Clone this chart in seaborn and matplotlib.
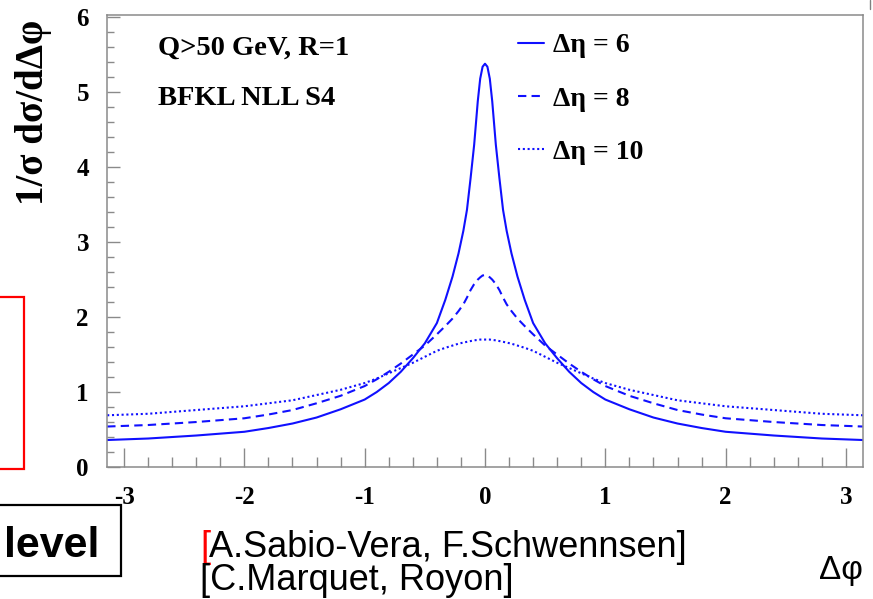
import matplotlib
matplotlib.use("Agg")
import matplotlib.pyplot as plt
import seaborn as sns
import numpy as np
from matplotlib.ticker import MultipleLocator
from matplotlib.patches import Rectangle
from matplotlib.lines import Line2D

# ---- data ----
dphi = [-3.14, -2.8, -2.4, -2.0, -1.8, -1.6, -1.4, -1.2, -1.0, -0.9, -0.8, -0.7,
        -0.6, -0.5, -0.4, -0.33, -0.27, -0.22, -0.18, -0.15, -0.12, -0.09, -0.06,
        -0.04, -0.02, 0.0, 0.02, 0.04, 0.06, 0.09, 0.12, 0.15, 0.18, 0.22, 0.27,
        0.33, 0.4, 0.5, 0.6, 0.7, 0.8, 0.9, 1.0, 1.2, 1.4, 1.6, 1.8, 2.0, 2.4,
        2.8, 3.14]
y_eta6 = [0.36, 0.38, 0.42, 0.47, 0.52, 0.58, 0.66, 0.77, 0.90, 1.00, 1.12, 1.27,
          1.45, 1.65, 1.92, 2.23, 2.54, 2.85, 3.15, 3.43, 3.85, 4.30, 4.88,
          5.18, 5.34, 5.38, 5.34, 5.18, 4.88, 4.30, 3.85, 3.43, 3.15, 2.85, 2.54,
          2.23, 1.92, 1.65, 1.45, 1.27, 1.12, 1.00, 0.90, 0.77, 0.66, 0.58, 0.52,
          0.47, 0.42, 0.38, 0.36]
y_eta8 = [0.54, 0.56, 0.60, 0.65, 0.70, 0.76, 0.85, 0.95, 1.08, 1.17, 1.27, 1.38,
          1.50, 1.62, 1.77, 1.88, 1.98, 2.08, 2.17, 2.26, 2.36, 2.44, 2.50,
          2.53, 2.555, 2.56, 2.555, 2.53, 2.50, 2.44, 2.36, 2.26, 2.17, 2.08, 1.98,
          1.88, 1.77, 1.62, 1.50, 1.38, 1.27, 1.17, 1.08, 0.95, 0.85, 0.76, 0.70,
          0.65, 0.60, 0.56, 0.54]
y_eta10 = [0.69, 0.71, 0.76, 0.81, 0.85, 0.89, 0.96, 1.03, 1.12, 1.18, 1.25, 1.32,
           1.39, 1.47, 1.55, 1.59, 1.62, 1.645, 1.66, 1.67, 1.68, 1.69, 1.695,
           1.70, 1.70, 1.70, 1.70, 1.70, 1.695, 1.69, 1.68, 1.67, 1.66, 1.645, 1.62,
           1.59, 1.55, 1.47, 1.39, 1.32, 1.25, 1.18, 1.12, 1.03, 0.96, 0.89, 0.85,
           0.81, 0.76, 0.71, 0.69]
series_labels = ["Δη = 6", "Δη = 8", "Δη = 10"]
xtick_vals = [-3, -2, -1, 0, 1, 2, 3]
xtick_labels = ["-3", "-2", "-1", "0", "1", "2", "3"]
ytick_vals = [0, 1, 2, 3, 4, 5, 6]
ytick_labels = ["0", "1", "2", "3", "4", "5", "6"]

sns.set_theme(style="white")
plt.rcParams["font.family"] = ["Liberation Serif", "DejaVu Serif"]
plt.rcParams["text.color"] = "black"

W, H = 873, 599
fig = plt.figure(figsize=(W / 100, H / 100), dpi=100)
ax = fig.add_axes([107 / W, 1 - 467 / H, 756 / W, 452 / H])

blue = "#1010ff"
styles = ["-", (0, (4, 2.5)), (0, (1, 1.3))]
for ys, lab, ls in zip([y_eta6, y_eta8, y_eta10], series_labels, styles):
    sns.lineplot(x=dphi, y=ys, ax=ax, color=blue, lw=1.5, linestyle=ls,
                 label=lab, sort=False, estimator=None)

ax.set_xlim(-np.pi, np.pi)
ax.set_ylim(0, 6.03)
ax.set_xticks(xtick_vals, labels=xtick_labels)
ax.set_yticks(ytick_vals, labels=ytick_labels)
ax.xaxis.set_minor_locator(MultipleLocator(0.2))
ax.yaxis.set_minor_locator(MultipleLocator(0.2))
ax.set_xlabel("")
ax.set_ylabel("")

gray = "#8a8a8a"
for s in ax.spines.values():
    s.set_color(gray)
    s.set_linewidth(1.1)
ax.tick_params(which="both", direction="in", color=gray, width=1.0,
               labelcolor="black", labelsize=18, bottom=True, left=True,
               top=False, right=False)
ax.tick_params(axis="x", which="major", length=14, pad=14)
ax.tick_params(axis="x", which="minor", length=7)
ax.tick_params(axis="y", which="major", length=9.5, pad=13)
ax.tick_params(axis="y", which="minor", length=5)
for t in ax.get_xticklabels() + ax.get_yticklabels():
    t.set_fontweight("bold")

handles, labs = ax.get_legend_handles_labels()
ax.legend(handles, labs, loc="upper left", bbox_to_anchor=(518 / W, 1 - 33 / H),
          bbox_transform=fig.transFigure, frameon=False, borderpad=0,
          borderaxespad=0, handlelength=0.95, handletextpad=0.3,
          labelspacing=1.0,
          prop=dict(family="Liberation Serif", weight="bold", size=20))

fig.text(158 / W, 1 - 55 / H, "Q>50 GeV, R=1", weight="bold", size=20.5, va="baseline")
fig.text(158 / W, 1 - 105 / H, "BFKL NLL S4", weight="bold", size=20.5, va="baseline")
fig.text(34 / W, 1 - 20 / H, "1/σ dσ/dΔφ", rotation=90, ha="center", va="top",
         weight="bold", size=28)
fig.text(863 / W, 1 - 570 / H, "Δφ", ha="right", va="center", size=24,
         family=["Liberation Sans", "DejaVu Sans"])

# slide decorations
fig.add_artist(Rectangle((-10 / W, 1 - 469 / H), 34 / W, 172 / H, transform=fig.transFigure,
                         fill=False, edgecolor="red", lw=1.6))
fig.add_artist(Rectangle((-10 / W, 1 - 576 / H), 131 / W, 71 / H, transform=fig.transFigure,
                         fill=False, edgecolor="black", lw=1.6))
fig.text(4 / W, 1 - 557 / H, "level", family=["Liberation Sans", "DejaVu Sans"],
         weight="bold", size=31, va="baseline", ha="left")
fig.text(200 / W, 1 - 557 / H, "[", color="red", family=["Liberation Sans", "DejaVu Sans"],
         size=26, va="baseline")
fig.text(209 / W, 1 - 557 / H, "A.Sabio-Vera, F.Schwennsen]",
         family=["Liberation Sans", "DejaVu Sans"], size=26, va="baseline")
fig.text(200 / W, 1 - 590 / H, "[C.Marquet, Royon]",
         family=["Liberation Sans", "DejaVu Sans"], size=26, va="baseline")
fig.add_artist(Line2D([870 / W, 870 / W], [1, 1 - 9 / H], transform=fig.transFigure,
                      color="gray", lw=1))

fig.savefig("out.png", dpi=100)
